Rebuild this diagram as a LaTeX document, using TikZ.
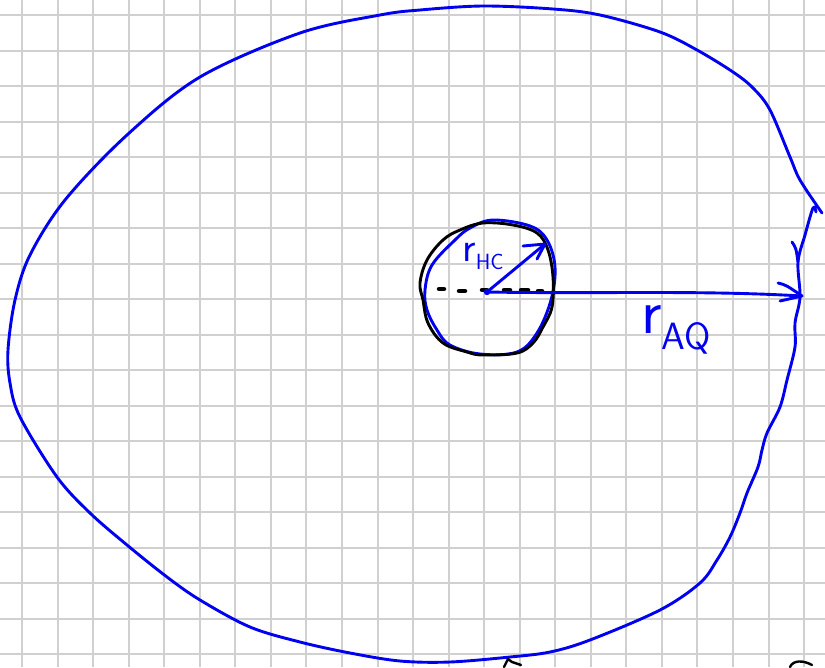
\documentclass[tikz,border=0pt]{standalone}
\usetikzlibrary{calc}
\definecolor{gridgray}{HTML}{D0D0D0}
\definecolor{penblue}{HTML}{0000F0}
\tikzset{
  gridline/.style={draw=gridgray, line width=2pt},
  bluepen/.style={draw=penblue, line width=2.9pt, line cap=round, line join=round},
  blackpen/.style={draw=black, line width=2.9pt, line cap=round, line join=round},
  handtext/.style={text=penblue, inner sep=0pt, font=\sffamily},
}
\begin{document}
\begin{tikzpicture}[x=1pt,y=-1pt]
\useasboundingbox (0,0) rectangle (825,667);
\fill[white] (0,0) rectangle (825,667);
% grid paper
\foreach \k in {0,...,22} { \draw[gridline] ({22+35.55*\k},0) -- ({22+35.55*\k},667); }
\foreach \k in {0,...,18} { \draw[gridline] (0,{15+35.5*\k}) -- (825,{15+35.5*\k}); }

% big blue loop
\draw[bluepen] plot[smooth, tension=0.55] coordinates {
 (822,213) (800,180) (790,157) (770,110) (753,88) (733,72) (697,50) (660,32)
 (600,15) (553,9) (483,6) (420,10) (380,15) (300,33) (200,77) (127,135) (65,200)
 (30,255) (15,300) (8,350) (10,383) (20,417) (57,477) (90,513) (127,545)
 (167,577) (200,600) (250,627) (300,642) (350,653) (400,661) (450,662) (510,657)
 (550,652) (590,640) (660,610) (700,583) (717,560) (730,537) (740,513) (747,493)
 (758,467) (762,450) (767,433) (780,407) (787,380) (795,347) (795,323) (800,297)
 (798,262) (805,235) (813,208) (816,212)};
\draw[bluepen] (792,242) .. controls (796,248) .. (798,262);

% blue inner circle
\draw[bluepen] plot[smooth cycle, tension=0.6] coordinates {
 (455,240) (432,265) (425,290) (427,310) (437,330) (450,345) (480,354)
 (517,352) (537,333) (551,300) (555,267) (547,240) (530,226) (493,220) (470,228)};
% black wobbly circle
\draw[blackpen] plot[smooth cycle, tension=0.6] coordinates {
 (483,223) (513,225) (537,233) (548,250) (553,277) (552,307) (543,327)
 (533,343) (517,353) (483,355) (467,352) (443,343) (428,323) (423,300)
 (420,283) (427,260) (443,240) (460,230)};

% black dashes along the radius
\foreach \a/\b/\y in {439/444/289, 459/465/291, 482/487/290, 504/510/290, 521/528/290, 538/542/291}
  { \draw[black, line width=4.5pt, line cap=round] (\a,\y) -- (\b,\y); }

% centre and radii
\coordinate (C) at (487,292);
\coordinate (HC) at (545,244);
\coordinate (AQ) at (802,296);
\fill[penblue] (C) circle (3.2);
\draw[bluepen] (C) -- (HC);
\draw[bluepen] (523,246) -- (HC) -- (537,259);
\draw[bluepen] (C) .. controls (600,294) and (700,290) .. (AQ);
\draw[bluepen] (778,283) .. controls (786,285) .. (AQ) -- (780,301);

% labels
\node[handtext] (rhc) at (483,256)
  {{\fontsize{42}{42}\selectfont r}\raisebox{-8pt}{\fontsize{22}{22}\selectfont HC}};
\node[handtext] (raq) at (676,330)
  {{\fontsize{64}{64}\selectfont r}\raisebox{-16pt}{\fontsize{38}{38}\selectfont AQ}};

% cut-off black marks at the bottom edge
\draw[blackpen, line width=2.4pt] (504,667) -- (508,659) -- (512,662) -- (521,665);
\draw[blackpen, line width=2.4pt] (790,667) .. controls (793,660) and (803,660) .. (812,665);
\end{tikzpicture}
\end{document}
